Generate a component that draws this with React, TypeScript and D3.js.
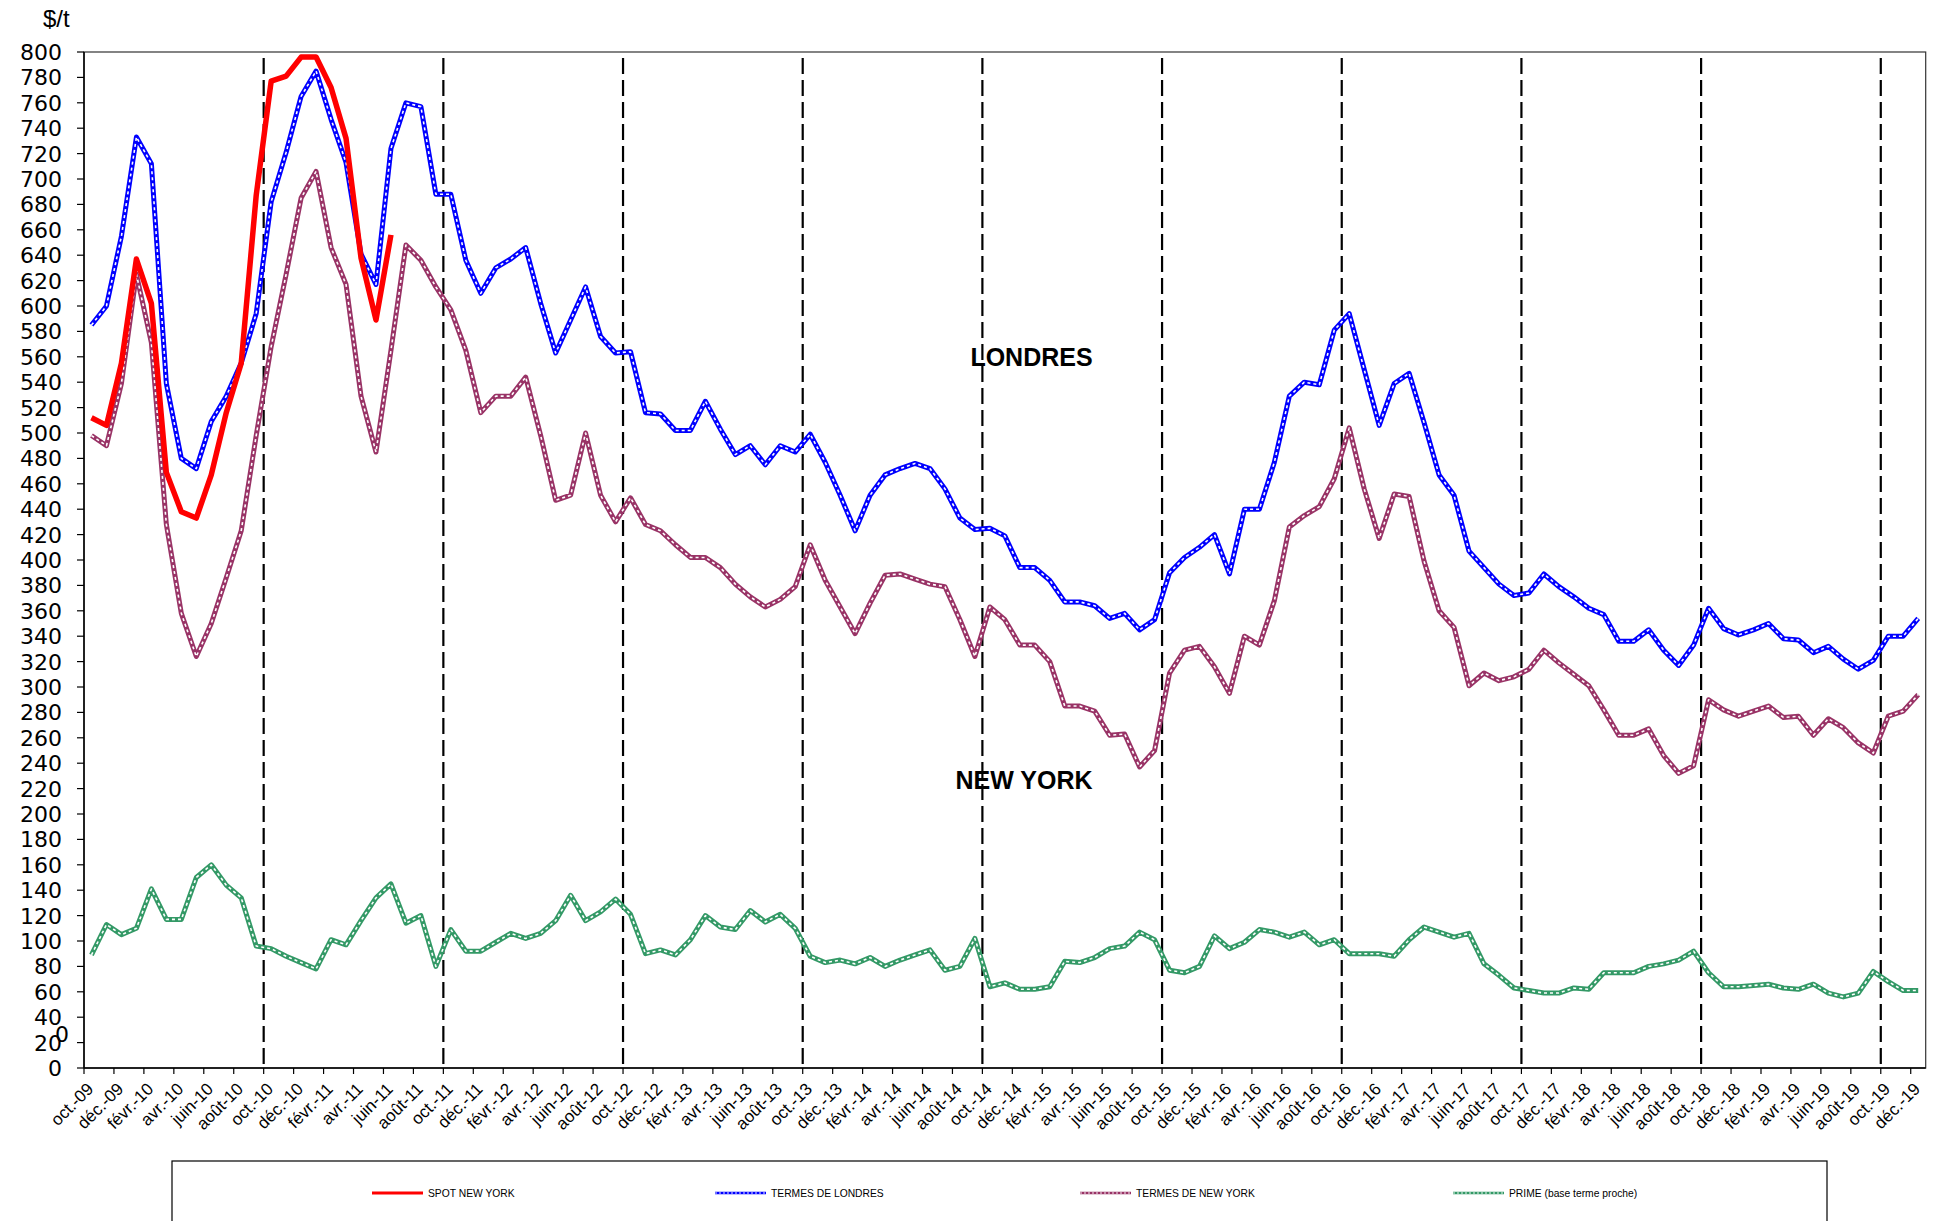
import React, { useEffect, useRef } from 'react';
import * as d3 from 'd3';

// mois (oct. 2009 -> déc. 2019)
const categories = [
  'oct.-09', 'nov.-09', 'déc.-09',
  'janv.-10', 'févr.-10', 'mars-10', 'avr.-10', 'mai-10', 'juin-10', 'juil.-10', 'août-10', 'sept.-10', 'oct.-10', 'nov.-10', 'déc.-10',
  'janv.-11', 'févr.-11', 'mars-11', 'avr.-11', 'mai-11', 'juin-11', 'juil.-11', 'août-11', 'sept.-11', 'oct.-11', 'nov.-11', 'déc.-11',
  'janv.-12', 'févr.-12', 'mars-12', 'avr.-12', 'mai-12', 'juin-12', 'juil.-12', 'août-12', 'sept.-12', 'oct.-12', 'nov.-12', 'déc.-12',
  'janv.-13', 'févr.-13', 'mars-13', 'avr.-13', 'mai-13', 'juin-13', 'juil.-13', 'août-13', 'sept.-13', 'oct.-13', 'nov.-13', 'déc.-13',
  'janv.-14', 'févr.-14', 'mars-14', 'avr.-14', 'mai-14', 'juin-14', 'juil.-14', 'août-14', 'sept.-14', 'oct.-14', 'nov.-14', 'déc.-14',
  'janv.-15', 'févr.-15', 'mars-15', 'avr.-15', 'mai-15', 'juin-15', 'juil.-15', 'août-15', 'sept.-15', 'oct.-15', 'nov.-15', 'déc.-15',
  'janv.-16', 'févr.-16', 'mars-16', 'avr.-16', 'mai-16', 'juin-16', 'juil.-16', 'août-16', 'sept.-16', 'oct.-16', 'nov.-16', 'déc.-16',
  'janv.-17', 'févr.-17', 'mars-17', 'avr.-17', 'mai-17', 'juin-17', 'juil.-17', 'août-17', 'sept.-17', 'oct.-17', 'nov.-17', 'déc.-17',
  'janv.-18', 'févr.-18', 'mars-18', 'avr.-18', 'mai-18', 'juin-18', 'juil.-18', 'août-18', 'sept.-18', 'oct.-18', 'nov.-18', 'déc.-18',
  'janv.-19', 'févr.-19', 'mars-19', 'avr.-19', 'mai-19', 'juin-19', 'juil.-19', 'août-19', 'sept.-19', 'oct.-19', 'nov.-19', 'déc.-19',
];

// $/t
const spotNewYork = [
  512, 506, 555, 637, 602, 469, 438, 433, 467, 516,
  555, 687, 777, 781, 796, 796, 772, 732, 638, 589,
  656,
];

const termesLondres = [
  585, 600, 655, 733, 712, 539, 480, 472, 509, 529,
  555, 594, 682, 721, 765, 785, 747, 713, 641, 617,
  724, 760, 757, 688, 688, 636, 610, 630, 637, 646,
  602, 563, 589, 615, 576, 563, 564, 516, 515, 502,
  502, 525, 503, 483, 490, 475, 490, 485, 499, 477,
  451, 423, 451, 467, 472, 476, 472, 456, 433, 424,
  425, 419, 394, 394, 384, 367, 367, 364, 354, 358,
  345, 353, 390, 402, 410, 420, 389, 440, 440, 477,
  529, 540, 538, 581, 594, 550, 506, 539, 547, 508,
  467, 451, 407, 394, 381, 372, 374, 389, 379, 371,
  362, 357, 336, 336, 345, 329, 317, 333, 362, 346,
  341, 345, 350, 338, 337, 327, 332, 322, 314, 321,
  340, 340, 354,
];

const termesNewYork = [
  498, 490, 539, 625, 571, 428, 358, 324, 350, 386,
  423, 498, 568, 625, 685, 706, 646, 617, 529, 485,
  565, 648, 636, 615, 597, 565, 516, 529, 529, 544,
  498, 447, 451, 500, 451, 430, 449, 428, 423, 412,
  402, 402, 394, 381, 371, 363, 369, 379, 412, 384,
  363, 342, 366, 388, 389, 385, 381, 379, 353, 324,
  363, 353, 333, 333, 320, 285, 285, 281, 262, 263,
  237, 250, 311, 329, 332, 316, 295, 340, 333, 368,
  426, 435, 442, 464, 504, 456, 417, 452, 450, 399,
  360, 347, 301, 311, 305, 308, 314, 329, 319, 310,
  301, 282, 262, 262, 267, 246, 232, 238, 290, 282,
  277, 281, 285, 276, 277, 262, 275, 268, 256, 248,
  277, 281, 294,
];

const primeTermeProche = [
  89, 113, 105, 110, 141, 117, 117, 150, 160, 144,
  134, 96, 94, 88, 83, 78, 101, 97, 116, 134,
  145, 114, 120, 80, 109, 92, 92, 99, 106, 102,
  106, 116, 136, 116, 123, 133, 121, 90, 93, 89,
  101, 120, 111, 109, 124, 115, 121, 110, 88, 83,
  85, 82, 87, 80, 85, 89, 93, 77, 80, 102,
  64, 67, 62, 62, 64, 84, 83, 87, 94, 96,
  107, 101, 77, 75, 80, 104, 94, 99, 109, 107,
  103, 107, 97, 101, 90, 90, 90, 88, 101, 111,
  107, 103, 106, 82, 73, 63, 61, 59, 59, 63,
  62, 75, 75, 75, 80, 82, 85, 92, 75, 64,
  64, 65, 66, 63, 62, 66, 59, 56, 59, 76,
  68, 61, 61,
];

const yTickValues = [
  0, 20, 40, 60, 80, 100, 120, 140, 160, 180, 200, 220, 240, 260, 280, 300, 320, 340, 360, 380,
  400, 420, 440, 460, 480, 500, 520, 540, 560, 580, 600, 620, 640, 660, 680, 700, 720, 740, 760, 780, 800,
];

const dividerMonths = ['oct.-10', 'oct.-11', 'oct.-12', 'oct.-13', 'oct.-14', 'oct.-15', 'oct.-16', 'oct.-17', 'oct.-18', 'oct.-19'];

const seriesNames = ['SPOT NEW YORK', 'TERMES DE LONDRES', 'TERMES DE NEW YORK', 'PRIME (base terme proche)'];

const annotations = [
  { text: 'LONDRES', month: 'sept.-14', value: 553 },
  { text: 'NEW YORK', month: 'août-14', value: 220 },
];

const W = 1943;
const H = 1221;

const App = () => {
  const svgRef = useRef<SVGSVGElement>(null);

  useEffect(() => {
    const svg = d3.select(svgRef.current);
    svg.selectAll('*').remove();

    const margin = { top: 52, right: 17.3, bottom: 153, left: 84 };
    const plotRight = W - margin.right;
    const plotBottom = H - margin.bottom;

    const x = d3.scaleBand().domain(categories).range([margin.left, plotRight]).padding(0);
    const y = d3.scaleLinear().domain([0, 800]).range([plotBottom, margin.top]);
    const bw = x.bandwidth();
    const cx = (i: number) => (x(categories[i]) as number) + bw / 2;

    const colors = ['#ff0000', '#0000ff', '#993366', '#339966'];

    // plot frame
    svg.append('rect')
      .attr('x', margin.left).attr('y', margin.top)
      .attr('width', plotRight - margin.left).attr('height', plotBottom - margin.top)
      .attr('fill', 'none').attr('stroke', '#333').attr('stroke-width', 1.2);

    // y axis
    const yg = svg.append('g');
    yg.append('line')
      .attr('x1', margin.left).attr('x2', margin.left)
      .attr('y1', margin.top).attr('y2', plotBottom)
      .attr('stroke', '#000').attr('stroke-width', 1.5);
    yg.selectAll('.ytick').data(yTickValues).enter().append('line')
      .attr('x1', margin.left - 7).attr('x2', margin.left)
      .attr('y1', d => y(d)).attr('y2', d => y(d))
      .attr('stroke', '#000').attr('stroke-width', 1.2);
    yg.selectAll('.ylab').data(yTickValues).enter().append('text')
      .attr('x', 62).attr('y', d => y(d) + 8)
      .attr('text-anchor', 'end')
      .style('font-family', '"DejaVu Sans", sans-serif').style('font-size', '22px')
      .attr('fill', '#000')
      .text(d => d);
    svg.append('text')
      .attr('x', 55).attr('y', 1042)
      .style('font-family', '"DejaVu Sans", sans-serif').style('font-size', '22px')
      .text('0');
    svg.append('text')
      .attr('x', 43).attr('y', 27)
      .style('font-family', '"Liberation Sans", Arial, sans-serif').style('font-size', '24px')
      .text('$/t');

    // x axis
    const xg = svg.append('g');
    xg.append('line')
      .attr('x1', margin.left).attr('x2', plotRight)
      .attr('y1', plotBottom).attr('y2', plotBottom)
      .attr('stroke', '#000').attr('stroke-width', 1.5);
    const labelIdx = categories.map((_, i) => i).filter(i => i % 2 === 0);
    xg.selectAll('.xtick').data(labelIdx).enter().append('line')
      .attr('x1', i => x(categories[i]) as number).attr('x2', i => x(categories[i]) as number)
      .attr('y1', plotBottom).attr('y2', plotBottom + 6)
      .attr('stroke', '#000').attr('stroke-width', 1.2);
    xg.selectAll('.xlab').data(labelIdx).enter().append('text')
      .attr('transform', i => `translate(${cx(i) + 3},${plotBottom + 22}) rotate(-45)`)
      .attr('text-anchor', 'end')
      .style('font-family', '"Liberation Sans", Arial, sans-serif').style('font-size', '17px')
      .attr('fill', '#000')
      .text(i => categories[i]);

    // vertical dashed year dividers
    svg.selectAll('.divider').data(dividerMonths).enter().append('line')
      .attr('x1', d => x(d) as number).attr('x2', d => x(d) as number)
      .attr('y1', margin.top + 6).attr('y2', plotBottom - 3)
      .attr('stroke', '#000').attr('stroke-width', 2.2)
      .attr('stroke-dasharray', '16 6');

    const line = d3.line<number>()
      .x((_, i) => cx(i))
      .y(d => y(d));

    const dotted = [termesLondres, termesNewYork, primeTermeProche];
    const dottedColors = [colors[1], colors[2], colors[3]];

    // dotted series: coloured stroke with a white dash inside
    dotted.forEach((data, k) => {
      svg.append('path').datum(data)
        .attr('d', line)
        .attr('fill', 'none').attr('stroke', dottedColors[k])
        .attr('stroke-width', 5).attr('stroke-linejoin', 'round');
      svg.append('path').datum(data)
        .attr('d', line)
        .attr('fill', 'none').attr('stroke', '#fff')
        .attr('stroke-width', 1.6).attr('stroke-dasharray', '3 3')
        .attr('stroke-linejoin', 'round');
    });

    svg.append('path').datum(spotNewYork)
      .attr('d', line)
      .attr('fill', 'none').attr('stroke', colors[0])
      .attr('stroke-width', 5.5).attr('stroke-linejoin', 'round');

    // annotations
    annotations.forEach(a => {
      svg.append('text')
        .attr('x', (x(a.month) as number) + 3).attr('y', y(a.value))
        .style('font-family', '"Liberation Sans", Arial, sans-serif')
        .style('font-size', '25px').style('font-weight', 'bold')
        .text(a.text);
    });

    // legend
    const lg = svg.append('g');
    lg.append('rect')
      .attr('x', 172).attr('y', 1161).attr('width', 1655).attr('height', 120)
      .attr('fill', 'none').attr('stroke', '#000').attr('stroke-width', 1.2);
    const legendX = [372, 715, 1080, 1453];
    const ly = 1193;
    seriesNames.forEach((name, k) => {
      const g = lg.append('g');
      g.append('line')
        .attr('x1', legendX[k]).attr('x2', legendX[k] + 51)
        .attr('y1', ly).attr('y2', ly)
        .attr('stroke', colors[k]).attr('stroke-width', k === 0 ? 3.2 : 2.6);
      if (k > 0) {
        g.append('line')
          .attr('x1', legendX[k]).attr('x2', legendX[k] + 51)
          .attr('y1', ly).attr('y2', ly)
          .attr('stroke', '#fff').attr('stroke-width', 0.9)
          .attr('stroke-dasharray', '2 2');
      }
      g.append('text')
        .attr('x', legendX[k] + 56).attr('y', ly + 3.8)
        .style('font-family', '"Liberation Sans", Arial, sans-serif').style('font-size', '10.3px')
        .text(name);
    });
  }, []);

  return (
    <svg
      ref={svgRef}
      width={W}
      height={H}
      style={{ position: 'absolute', left: 0, top: 0, display: 'block', background: '#fff' }}
    ></svg>
  );
};

export default App;
